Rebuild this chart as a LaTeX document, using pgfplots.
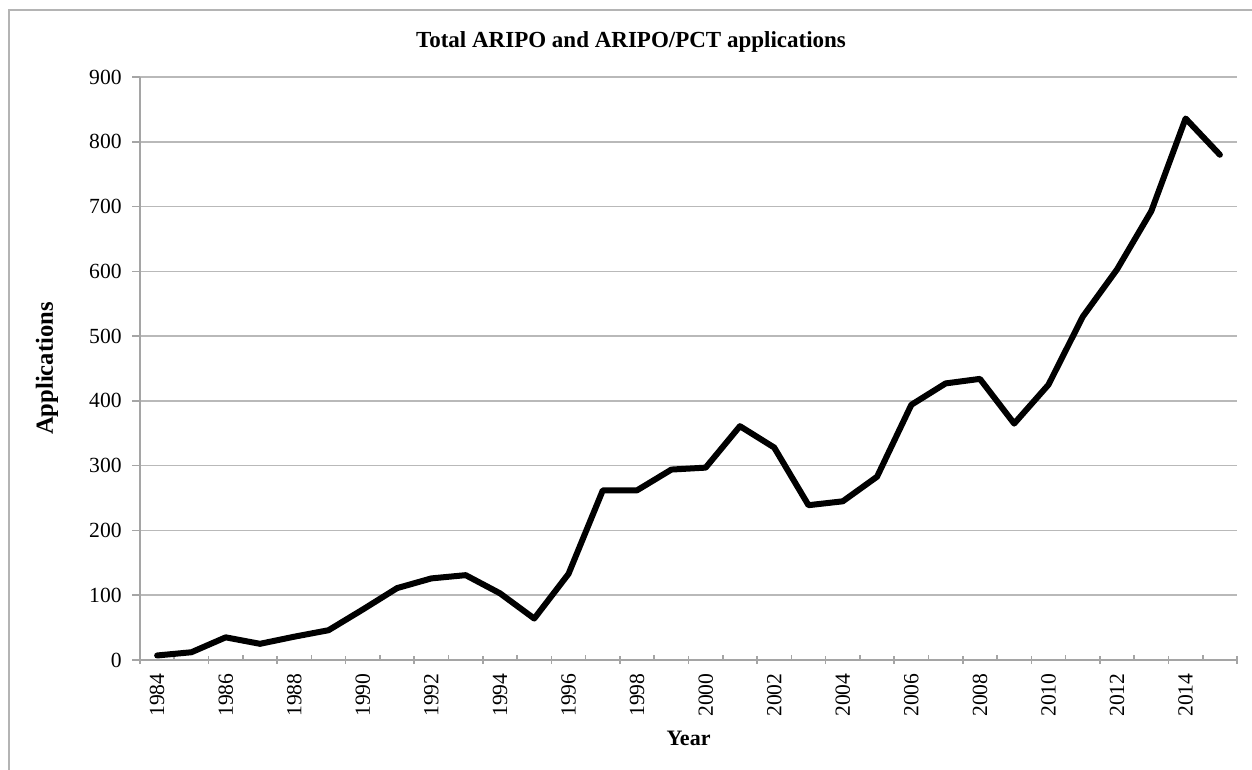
\documentclass[border=0pt]{standalone}
\usepackage{fontspec}
\setmainfont{Liberation Serif}
\usepackage{pgfplots}
\pgfplotsset{compat=1.18}
\definecolor{axgray}{RGB}{165,165,165}
\definecolor{gridgray}{RGB}{185,185,185}
\definecolor{framegray}{RGB}{180,180,180}
\begin{document}
\begin{tikzpicture}[x=1bp,y=1bp]
\useasboundingbox (-70,-54.5) rectangle (556,330);
\draw[framegray, line width=1.2bp] (-65.5,-60) -- (-65.5,325) -- (560,325);
\begin{axis}[
  at={(0,0)}, anchor=south west,
  scale only axis, width=548.5bp, height=291.5bp,
  xmin=1983.5, xmax=2015.5,
  ymin=0, ymax=900,
  ytick={0,100,...,900},
  axis x line*=bottom, axis y line*=left,
  axis line style={axgray, line width=0.8bp},
  ymajorgrids, grid style={gridgray, line width=0.8bp},
  tick align=outside,
  major tick length=4bp,
  minor tick length=2.5bp,
  tick style={axgray, line width=0.8bp},
  xtick={1983.5,1985.5,...,2015.5},
  xticklabels={},
  minor xtick={1984.5,1986.5,...,2014.5},
  major x tick style={yshift=2bp},
  minor x tick style={yshift=2.5bp},
  extra x ticks={1984,1986,...,2014},
  extra x tick labels={1984,1986,1988,1990,1992,1994,1996,1998,2000,2002,2004,2006,2008,2010,2012,2014},
  extra x tick style={major tick length=0pt, grid=none},
  xticklabel shift=6.5bp,
  x tick label style={rotate=90, anchor=east, inner sep=0pt},
  y tick label style={inner sep=0pt, xshift=-5bp},
  tick label style={font=\fontsize{10.8bp}{12bp}\selectfont},
  /pgf/number format/assume math mode=true,
  /pgf/number format/1000 sep={},
  clip=false,
]
\addplot[black, line width=3bp, line join=round, line cap=round] coordinates {
(1984,7) (1985,12) (1986,35) (1987,25) (1988,36) (1989,46) (1990,78)
(1991,111) (1992,126) (1993,131) (1994,103) (1995,64) (1996,133)
(1997,262) (1998,262) (1999,294) (2000,297) (2001,361) (2002,328)
(2003,239) (2004,245) (2005,283) (2006,394) (2007,427) (2008,434)
(2009,365) (2010,425) (2011,530) (2012,603) (2013,693) (2014,836) (2015,780)
};
\end{axis}
\node[font=\bfseries\fontsize{11.5bp}{13bp}\selectfont] at (245.5,309) {Total ARIPO and ARIPO/PCT applications};
\node[font=\bfseries\fontsize{11bp}{13bp}\selectfont] at (274.25,-39) {Year};
\node[font=\bfseries\fontsize{12.3bp}{14bp}\selectfont, rotate=90] at (-46.5,145.75) {Applications};
\end{tikzpicture}
\end{document}
